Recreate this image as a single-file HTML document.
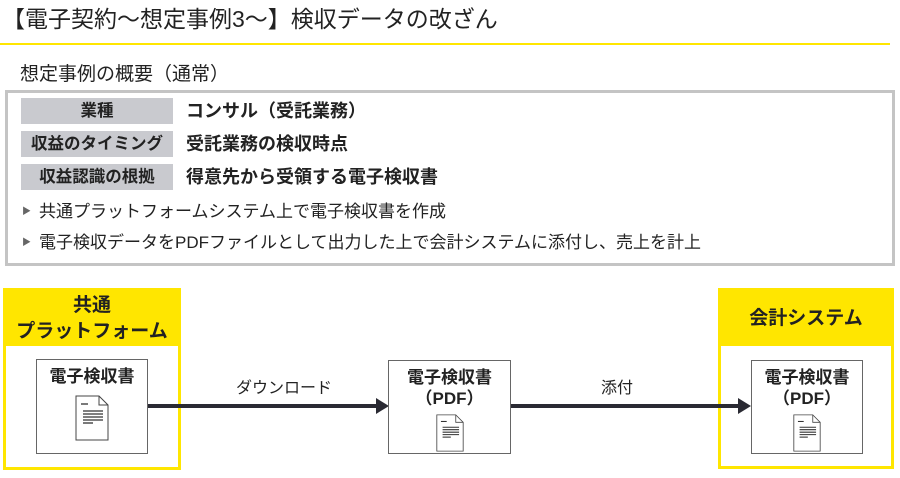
<!DOCTYPE html>
<html><head><meta charset="utf-8"><style>
body{margin:0;width:900px;height:478px;background:#fff;position:relative;overflow:hidden;font-family:"Liberation Sans","Noto Sans CJK JP",sans-serif;color:#222}
.a{position:absolute}
.lab{position:absolute;left:21px;width:152px;height:26px;background:#c9cacf;font-weight:bold;font-size:16.5px;line-height:26px;text-align:center}
.val{position:absolute;left:186px;font-weight:bold;font-size:18px;line-height:26px}
.bul{position:absolute;left:22px;font-size:17px;line-height:22px}
.bul span{font-size:9px;color:#666;margin-right:8px;vertical-align:3px}
.yb{position:absolute;border:3px solid #ffe600;box-sizing:border-box}
.yh{position:absolute;left:0;right:0;top:0;background:#ffe600;font-weight:bold;font-size:19px;text-align:center}
.ib{position:absolute;border:1.5px solid #666;box-sizing:border-box;background:#fff;text-align:center;font-weight:bold;font-size:17px;line-height:21px}
.ib svg{display:block;margin:4px auto 0}
</style></head><body>
<div class="a" style="left:2px;top:4px;font-size:23px;line-height:30px">【電子契約～想定事例3～】検収データの改ざん</div>
<div class="a" style="left:0;top:43px;width:890px;height:2px;background:#ffe600"></div>
<div class="a" style="left:20px;top:63px;font-size:19px;line-height:24px">想定事例の概要（通常）</div>
<div class="a" style="left:5px;top:90px;width:890px;height:176px;border:3px solid #c4c4c4;box-sizing:border-box"></div>
<div class="lab" style="top:98px">業種</div><div class="val" style="top:98px">コンサル（受託業務）</div>
<div class="lab" style="top:131px">収益のタイミング</div><div class="val" style="top:131px">受託業務の検収時点</div>
<div class="lab" style="top:164px">収益認識の根拠</div><div class="val" style="top:164px">得意先から受領する電子検収書</div>
<div class="bul" style="top:200px"><span>▶</span>共通プラットフォームシステム上で電子検収書を作成</div>
<div class="bul" style="top:231px"><span>▶</span>電子検収データをPDFファイルとして出力した上で会計システムに添付し、売上を計上</div>

<div class="yb" style="left:3px;top:288px;width:178px;height:182px"><div class="yh" style="height:55px;padding-top:2px;line-height:26px;box-sizing:border-box">共通<br>プラットフォーム</div></div>
<div class="yb" style="left:718px;top:288px;width:176px;height:181px"><div class="yh" style="height:55px;line-height:55px">会計システム</div></div>

<svg class="a" style="left:0;top:0" width="900" height="478">
<line x1="147" y1="406" x2="378" y2="406" stroke="#2a2a33" stroke-width="4"/>
<polygon points="376,398 389,406 376,414" fill="#2a2a33"/>
<line x1="510" y1="406" x2="740" y2="406" stroke="#2a2a33" stroke-width="4"/>
<polygon points="738,398 751,406 738,414" fill="#2a2a33"/>
<text x="284" y="393" font-size="16" text-anchor="middle" fill="#222" font-family="Liberation Sans,Noto Sans CJK JP,sans-serif">ダウンロード</text>
<text x="617" y="393" font-size="16" text-anchor="middle" fill="#222" font-family="Liberation Sans,Noto Sans CJK JP,sans-serif">添付</text>
</svg>

<div class="ib" style="left:36px;top:359px;width:112px;height:95px;padding-top:6px">電子検収書
<svg width="34" height="46" viewBox="0 0 34 46" style="margin-top:8px"><path d="M1 1H24L33 10V45H1Z" fill="#fff" stroke="#444"/><path d="M24 1V10H33" fill="none" stroke="#444"/><g stroke="#333" stroke-width="1.3"><line x1="6" y1="9" x2="13" y2="9"/><line x1="8" y1="16" x2="28" y2="16"/><line x1="8" y1="19" x2="28" y2="19"/><line x1="8" y1="22" x2="28" y2="22"/><line x1="8" y1="25" x2="28" y2="25"/><line x1="8" y1="28" x2="18" y2="28"/></g></svg></div>
<div class="ib" style="left:388px;top:360px;width:123px;height:94px;padding-top:6px">電子検収書<br>（PDF）
<svg width="28" height="40" viewBox="0 0 34 46"><path d="M1 1H24L33 10V45H1Z" fill="#fff" stroke="#444"/><path d="M24 1V10H33" fill="none" stroke="#444"/><g stroke="#333" stroke-width="1.3"><line x1="6" y1="9" x2="13" y2="9"/><line x1="8" y1="16" x2="28" y2="16"/><line x1="8" y1="19" x2="28" y2="19"/><line x1="8" y1="22" x2="28" y2="22"/><line x1="8" y1="25" x2="28" y2="25"/><line x1="8" y1="28" x2="18" y2="28"/></g></svg></div>
<div class="ib" style="left:751px;top:360px;width:112px;height:94px;padding-top:6px">電子検収書<br>（PDF）
<svg width="28" height="40" viewBox="0 0 34 46"><path d="M1 1H24L33 10V45H1Z" fill="#fff" stroke="#444"/><path d="M24 1V10H33" fill="none" stroke="#444"/><g stroke="#333" stroke-width="1.3"><line x1="6" y1="9" x2="13" y2="9"/><line x1="8" y1="16" x2="28" y2="16"/><line x1="8" y1="19" x2="28" y2="19"/><line x1="8" y1="22" x2="28" y2="22"/><line x1="8" y1="25" x2="28" y2="25"/><line x1="8" y1="28" x2="18" y2="28"/></g></svg></div>
</body></html>
